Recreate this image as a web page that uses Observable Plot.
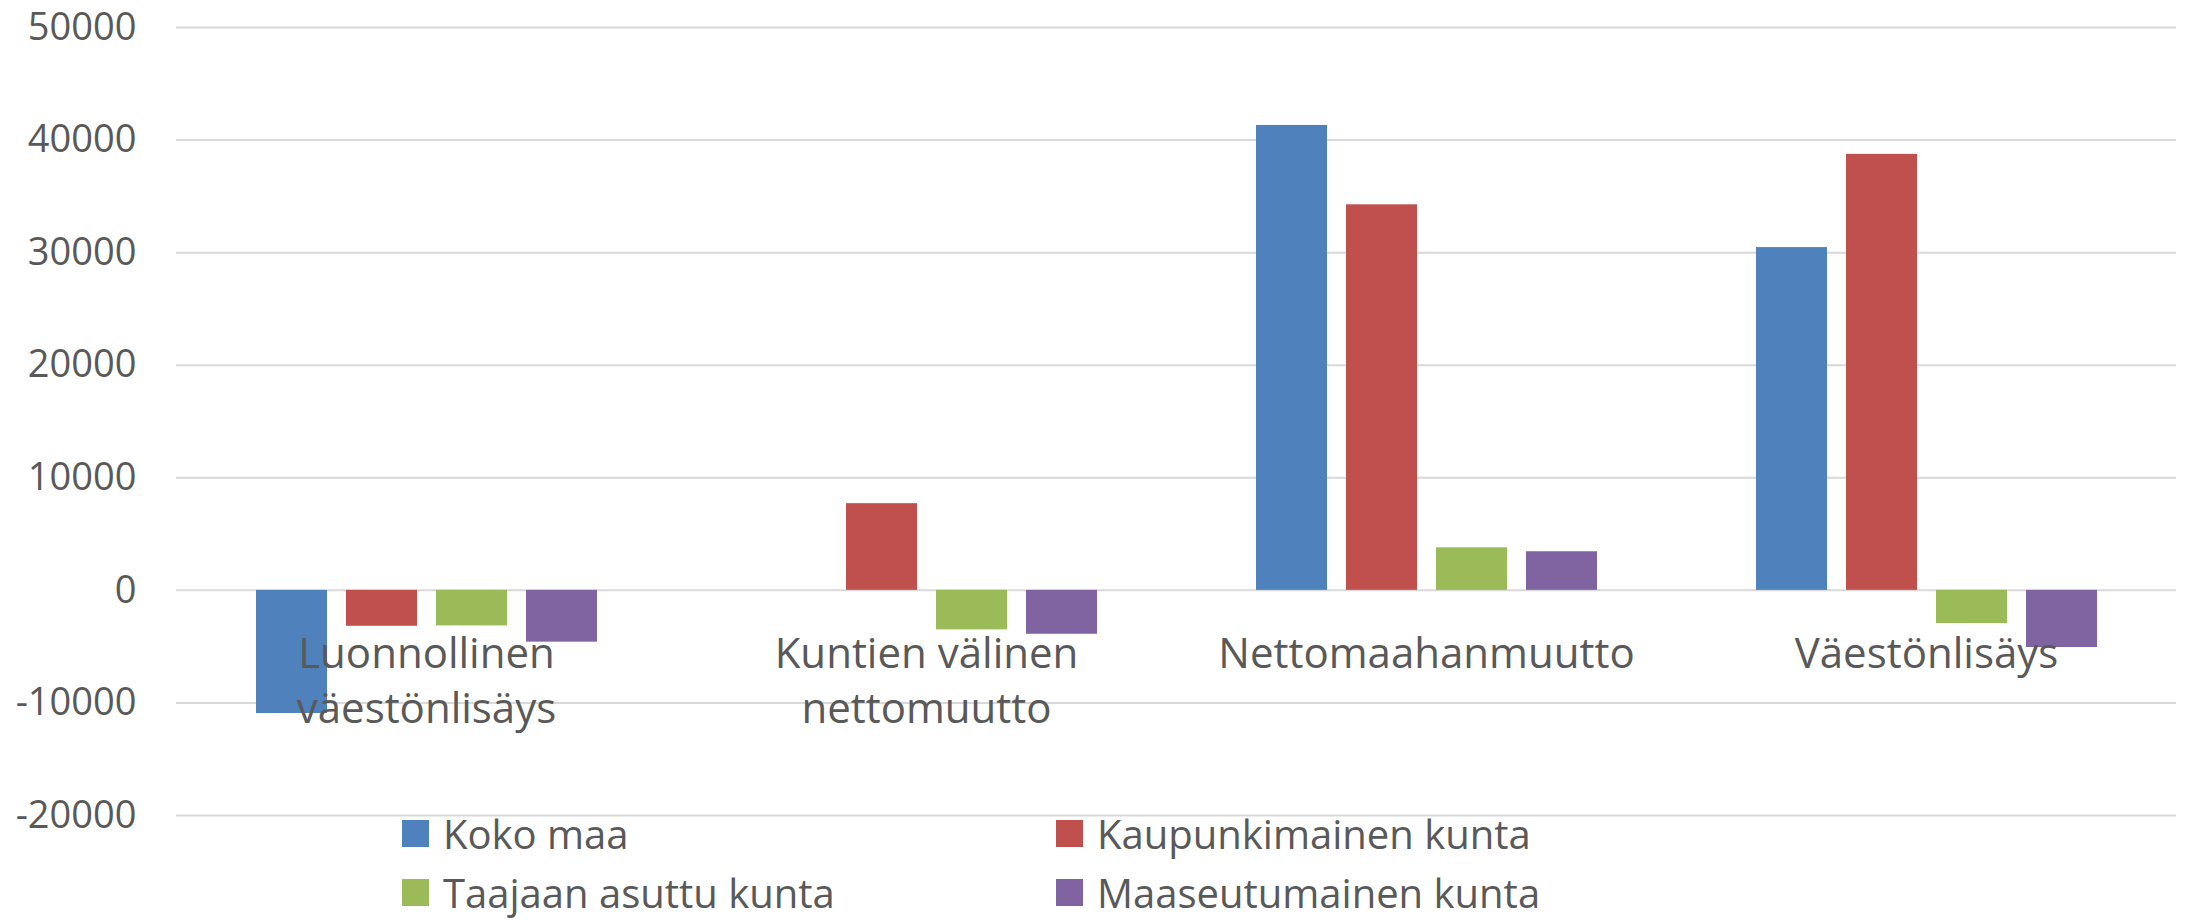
<!DOCTYPE html>
<html>
<head>
<meta charset="utf-8">
<script src="https://cdn.jsdelivr.net/npm/d3@7"></script>
<script src="https://cdn.jsdelivr.net/npm/@observablehq/plot@0.6"></script>
<style>
  html, body { margin: 0; padding: 0; background: #fff; overflow: hidden; }
  #wrap { position: relative; width: 2186px; height: 920px; }
  #chart svg { overflow: visible; }
  #legend {
    position: absolute; top: 804px; left: 402px;
    display: grid; grid-template-columns: 654px 654px; grid-auto-rows: 59px;
    font-family: "Open Sans", sans-serif; font-size: 40px; color: #595959;
  }
  .item { display: flex; align-items: center; line-height: 40px; white-space: nowrap; }
  .sw { width: 27px; height: 27px; margin-right: 14px; flex: none; }
</style>
</head>
<body>
<div id="wrap"><div id="chart"></div><div id="legend"></div></div>
<script>
const categories = ["Luonnollinen väestönlisäys", "Kuntien välinen nettomuutto", "Nettomaahanmuutto", "Väestönlisäys"];
const categoryLabels = ["Luonnollinen\nväestönlisäys", "Kuntien välinen\nnettomuutto", "Nettomaahanmuutto", "Väestönlisäys"];
const series = ["Koko maa", "Kaupunkimainen kunta", "Taajaan asuttu kunta", "Maaseutumainen kunta"];
const colors = ["#4F81BD", "#C0504D", "#9BBB59", "#8064A2"];
const kokoMaa = [-10940, 0, 41300, 30450];
const kaupunkimainen = [-3190, 7700, 34250, 38730];
const taajaan = [-3160, -3510, 3780, -2950];
const maaseutumainen = [-4600, -3900, 3430, -5080];
const yTicks = [-20000, -10000, 0, 10000, 20000, 30000, 40000, 50000];

const valueArrays = [kokoMaa, kaupunkimainen, taajaan, maaseutumainen];
const data = [];
categories.forEach((c, i) => {
  series.forEach((s, j) => data.push({category: c, series: s, value: valueArrays[j][i]}));
});
const labelData = categories.map((c, i) => ({category: c, label: categoryLabels[i]}));

const chart = Plot.plot({
  width: 2186,
  height: 820,
  marginTop: 27,
  marginBottom: 5,
  marginLeft: 176,
  marginRight: 10,
  style: {fontFamily: "'Open Sans', sans-serif", background: "#fff", overflow: "visible"},
  fx: {domain: categories, padding: 0, axis: null},
  x: {domain: series, paddingInner: 0.215, paddingOuter: 0.865, axis: null},
  y: {domain: [-20000, 50000], ticks: yTicks, tickSize: 0, tickPadding: 40,
      tickFormat: d => String(d), label: null},
  color: {domain: series, range: colors},
  marks: [
    Plot.ruleY(yTicks, {stroke: "#D9D9D9", strokeWidth: 2}),
    Plot.axisY(yTicks, {tickSize: 0, tickPadding: 40, tickFormat: d => String(d),
      fontSize: 38, fill: "#595959", label: null}),
    Plot.barY(data, {fx: "category", x: "series", y: "value", fill: "series"}),
    Plot.text(labelData, {fx: "category", y: 0, text: "label", lineAnchor: "top",
      dy: 38, fontSize: 42, lineHeight: 1.32, fill: "#595959"})
  ]
});
document.getElementById("chart").appendChild(chart);

const legend = document.getElementById("legend");
series.forEach((s, i) => {
  const it = document.createElement("div");
  it.className = "item";
  const sw = document.createElement("span");
  sw.className = "sw";
  sw.style.background = colors[i];
  it.appendChild(sw);
  it.appendChild(document.createTextNode(s));
  legend.appendChild(it);
});
</script>
</body>
</html>
